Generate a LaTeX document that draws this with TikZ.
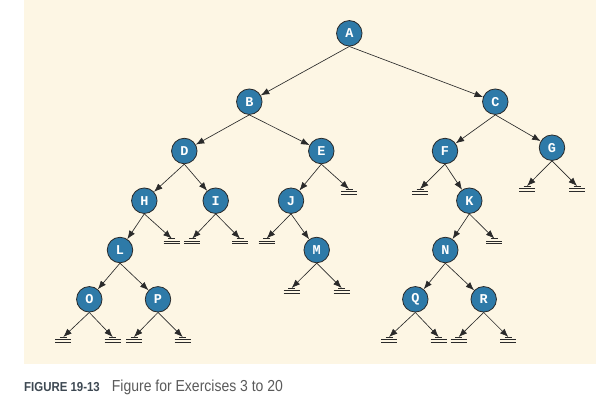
\documentclass[tikz,border=0pt]{standalone}
\usepackage{fontspec}
\setmainfont{Liberation Sans}
\newfontfamily\nodefont{Liberation Mono}
\newfontfamily\capfont{Liberation Sans}[FakeStretch=0.88]
\usetikzlibrary{arrows.meta}
\definecolor{bgcream}{HTML}{FDF6E4}
\definecolor{nodeblue}{HTML}{2E7AA8}
\definecolor{edgegray}{HTML}{2A2A2A}
\definecolor{capdark}{HTML}{3D4852}
\definecolor{capgray}{HTML}{5A5A5A}
\begin{document}
\begin{tikzpicture}[x=1pt,y=-1pt,
  tnode/.style={circle, draw=edgegray, line width=0.8pt, fill=nodeblue,
    minimum size=25.5pt, inner sep=0pt, text=white,
    font=\nodefont\bfseries\fontsize{13.5}{13.5}\selectfont},
  link/.style={draw=edgegray, line width=0.65pt, -{Latex[length=8.5pt,width=6.5pt]}},
  groundsym/.pic={\draw[edgegray, line width=0.75pt]
      (-3.5,0) -- (3.5,0) (-8,2.5) -- (8,2.5) (-8,5) -- (8,5);}
]
\useasboundingbox (0,0) rectangle (596,408);
\fill[bgcream] (24,0) rectangle (596,364);

% tree nodes
\node[tnode] (A) at (349.3,33.3) {A};
\node[tnode] (B) at (249.3,101.7) {B};
\node[tnode] (C) at (495.3,101.7) {C};
\node[tnode] (D) at (184.3,151) {D};
\node[tnode] (E) at (321.3,151) {E};
\node[tnode] (F) at (445,151) {F};
\node[tnode] (G) at (552,147.7) {G};
\node[tnode] (H) at (144.3,200.7) {H};
\node[tnode] (I) at (215.7,200.7) {I};
\node[tnode] (J) at (291,200.7) {J};
\node[tnode] (K) at (469.3,200.7) {K};
\node[tnode] (L) at (120,250) {L};
\node[tnode] (M) at (316.7,250) {M};
\node[tnode] (N) at (445.3,250) {N};
\node[tnode] (O) at (89.3,299.3) {O};
\node[tnode] (P) at (158,299.3) {P};
\node[tnode] (Q) at (415.3,299.3) {Q};
\node[tnode] (R) at (483.7,299.3) {R};

% null (ground) points
\coordinate (gEr) at (349,189);
\coordinate (gFl) at (420,189);
\coordinate (gGl) at (527,186);
\coordinate (gGr) at (577,186);
\coordinate (gHr) at (171.7,238.5);
\coordinate (gIl) at (192.3,238.5);
\coordinate (gIr) at (240,238.5);
\coordinate (gJl) at (266.7,238.5);
\coordinate (gKr) at (494.3,238.5);
\coordinate (gMl) at (291.7,288);
\coordinate (gMr) at (341.7,288);
\coordinate (gOl) at (63.3,337);
\coordinate (gOr) at (112.7,337);
\coordinate (gPl) at (134,337);
\coordinate (gPr) at (182.7,337);
\coordinate (gQl) at (389,337);
\coordinate (gQr) at (438.7,337);
\coordinate (gRl) at (458.7,337);
\coordinate (gRr) at (508.3,337);

\foreach \g in {gEr,gFl,gGl,gGr,gHr,gIl,gIr,gJl,gKr,gMl,gMr,gOl,gOr,gPl,gPr,gQl,gQr,gRl,gRr}
  \pic at (\g) {groundsym};

% links between nodes
\draw[link] (A.south) -- (B);
\draw[link] (A.south) -- (C);
\draw[link] (B.south) -- (D);
\draw[link] (B.south) -- (E);
\draw[link] (C.south) -- (F);
\draw[link] (C.south) -- (G);
\draw[link] (D.south) -- (H);
\draw[link] (D.south) -- (I);
\draw[link] (E.south) -- (J);
\draw[link] (F.south) -- (K);
\draw[link] (H.south) -- (L);
\draw[link] (J.south) -- (M);
\draw[link] (K.south) -- (N);
\draw[link] (L.south) -- (O);
\draw[link] (L.south) -- (P);
\draw[link] (N.south) -- (Q);
\draw[link] (N.south) -- (R);

% links to null
\draw[link] (E.south) -- (gEr);
\draw[link] (F.south) -- (gFl);
\draw[link] (G.south) -- (gGl);
\draw[link] (G.south) -- (gGr);
\draw[link] (H.south) -- (gHr);
\draw[link] (I.south) -- (gIl);
\draw[link] (I.south) -- (gIr);
\draw[link] (J.south) -- (gJl);
\draw[link] (K.south) -- (gKr);
\draw[link] (M.south) -- (gMl);
\draw[link] (M.south) -- (gMr);
\draw[link] (O.south) -- (gOl);
\draw[link] (O.south) -- (gOr);
\draw[link] (P.south) -- (gPl);
\draw[link] (P.south) -- (gPr);
\draw[link] (Q.south) -- (gQl);
\draw[link] (Q.south) -- (gQr);
\draw[link] (R.south) -- (gRl);
\draw[link] (R.south) -- (gRr);

% caption
\node[anchor=base west, inner sep=0pt, text=capdark,
  font=\capfont\fontsize{13}{14}\selectfont\bfseries] (cap1) at (24,391.5) {FIGURE 19-13};
\node[anchor=base west, inner sep=0pt, text=capgray,
  font=\capfont\fontsize{15.9}{17}\selectfont] (cap2) at (111.7,391.5) {Figure for Exercises 3 to 20};
\end{tikzpicture}
\end{document}
